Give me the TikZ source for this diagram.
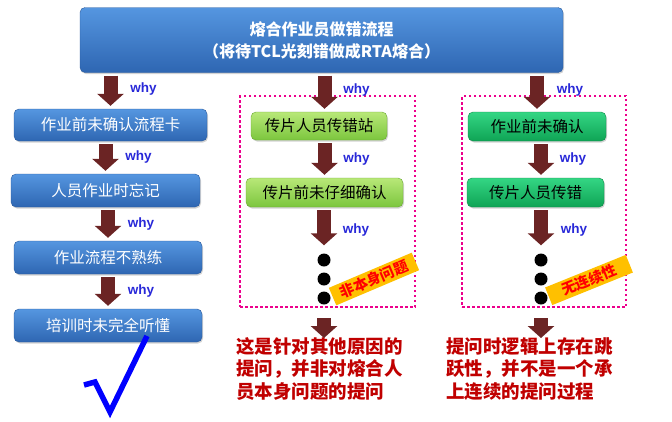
\documentclass[tikz,border=0pt]{standalone}
\usepackage{fontspec}
\setmainfont{Liberation Sans}
\newfontfamily\cjk{Noto Sans CJK SC}
\usetikzlibrary{arrows.meta,shadows}

\definecolor{arrowred}{HTML}{6B2424}
\definecolor{whyblue}{HTML}{2828D8}
\definecolor{notered}{HTML}{C00000}
\definecolor{bluetop}{HTML}{5596E0}
\definecolor{bluebot}{HTML}{2E66B2}
\definecolor{blueline}{HTML}{2A5A9C}
\definecolor{limetop}{HTML}{B8E878}
\definecolor{limebot}{HTML}{7CC63E}
\definecolor{limeline}{HTML}{6AA832}
\definecolor{greentop}{HTML}{34D684}
\definecolor{greenbot}{HTML}{0FA455}
\definecolor{greenline}{HTML}{0E8A48}
\definecolor{tagorange}{HTML}{FFC000}

\tikzset{
  boxbase/.style={rounded corners=5pt, inner sep=0pt,
    font=\cjk\fontsize{15.5}{18}\selectfont,
    drop shadow={opacity=0.35, shadow xshift=1pt, shadow yshift=-1.5pt}},
  bluebox/.style={boxbase, draw=blueline, top color=bluetop, bottom color=bluebot, text=white},
  limebox/.style={boxbase, draw=limeline, top color=limetop, bottom color=limebot, text=black},
  greenbox/.style={boxbase, draw=greenline, top color=greentop, bottom color=greenbot, text=black},
  blockarrow/.style={color=arrowred, line width=14pt, -{Triangle[length=12pt, width=26pt]},
    shorten <=3pt, shorten >=3pt},
  whylbl/.style={text=whyblue, font=\bfseries\fontsize{13.5}{13.5}\selectfont, inner sep=0pt},
  dashframe/.style={draw=magenta, line width=2.5pt, dash pattern=on 2.5pt off 2.5pt, inner sep=0pt},
  dotnode/.style={circle, fill=black, minimum size=13pt, inner sep=0pt},
  tagbox/.style={fill=tagorange, minimum height=19pt, inner sep=0pt,
    text=red, font=\cjk\bfseries\fontsize{14.5}{14.5}\selectfont},
  note/.style={anchor=north west, align=left, inner sep=0pt, text=notered,
    font=\cjk\bfseries\fontsize{18.5}{22.5}\selectfont}
}

\begin{document}
\begin{tikzpicture}[x=1pt, y=-1pt]
\useasboundingbox (0,0) rectangle (672,421);

% top box
\node[bluebox, minimum width=483pt, minimum height=65pt, align=center,
  font=\cjk\bfseries\fontsize{16}{22}\selectfont] (top) at (321.5,40)
  {熔合作业员做错流程\\（将待TCL光刻错做成RTA熔合）};

% left column
\node[bluebox, minimum width=193pt, minimum height=32pt] (L1) at (110.5,125) {作业前未确认流程卡};
\node[bluebox, minimum width=189pt, minimum height=33pt] (L2) at (105.5,190.5) {人员作业时忘记};
\node[bluebox, minimum width=188pt, minimum height=33pt] (L3) at (108,257.5) {作业流程不熟练};
\node[bluebox, minimum width=188pt, minimum height=33pt] (L4) at (108,325.5) {培训时未完全听懂};

\draw[blockarrow] (L1.north |- top.south) -- (L1.north) node[whylbl, midway, xshift=33pt, yshift=2pt] {why};
\draw[blockarrow] (L1.south -| L2) -- (L2.north) node[whylbl, midway, xshift=33pt] {why};
\draw[blockarrow] (L2.south -| L3) -- (L3.north) node[whylbl, midway, xshift=33pt] {why};
\draw[blockarrow] (L3.south) -- (L4.north) node[whylbl, midway, xshift=33pt] {why};

% check mark
\draw[blue, line width=5.5pt, line join=miter] (84,385) -- (95,382) -- (110,412) -- (147,336);

% middle column
\node[dashframe, minimum width=175pt, minimum height=211pt] (midframe) at (327.5,201.5) {};
\node[limebox, minimum width=136pt, minimum height=28pt] (M1) at (319,126) {传片人员传错站};
\node[limebox, minimum width=157pt, minimum height=29pt] (M2) at (324.5,192.5) {传片前未仔细确认};
\node[dotnode] (mdot1) at (324,260) {};
\node[dotnode] (mdot2) at (324,279) {};
\node[dotnode] (mdot3) at (324,298) {};
\node[tagbox, rotate=23, minimum width=90pt] (midtag) at (374,279) {非本身问题};

\draw[blockarrow] (M2 |- top.south) -- (M2 |- M1.north) node[whylbl, midway, xshift=32pt, yshift=2pt] {why};
\draw[blockarrow] (M2 |- M1.south) -- (M2.north) node[whylbl, midway, xshift=32pt] {why};
\draw[blockarrow, shorten >=8pt] (M2.south -| mdot1) -- (mdot1.north) node[whylbl, midway, xshift=32pt] {why};

\node[note] (midnote) at (236,337) {这是针对其他原因的\\提问，并非对熔合人\\员本身问题的提问};
\draw[blockarrow, shorten <=10pt, shorten >=-1pt] (mdot3 |- midframe.south) -- (mdot3 |- midnote.north);

% right column
\node[dashframe, minimum width=164pt, minimum height=211pt] (rightframe) at (544,201.5) {};
\node[greenbox, minimum width=138pt, minimum height=29pt] (R1) at (537,126.5) {作业前未确认};
\node[greenbox, minimum width=137pt, minimum height=29pt] (R2) at (535.5,192.5) {传片人员传错};
\node[dotnode] (rdot1) at (541,260) {};
\node[dotnode] (rdot2) at (541,279) {};
\node[dotnode] (rdot3) at (541,298) {};
\node[tagbox, rotate=22, minimum width=87pt] (righttag) at (589,280) {无连续性};

\draw[blockarrow] (R1.north |- top.south) -- (R1.north) node[whylbl, midway, xshift=33pt, yshift=2pt] {why};
\draw[blockarrow] (R1.south -| rdot1) -- (rdot1 |- R2.north) node[whylbl, midway, xshift=32pt] {why};
\draw[blockarrow, shorten >=8pt] (R2.south -| rdot1) -- (rdot1.north) node[whylbl, midway, xshift=33pt] {why};

\node[note] (rightnote) at (446,337) {提问时逻辑上存在跳\\跃性，并不是一个承\\上连续的提问过程};
\draw[blockarrow, shorten <=10pt, shorten >=-1pt] (rdot3 |- rightframe.south) -- (rdot3 |- rightnote.north);

\end{tikzpicture}
\end{document}
